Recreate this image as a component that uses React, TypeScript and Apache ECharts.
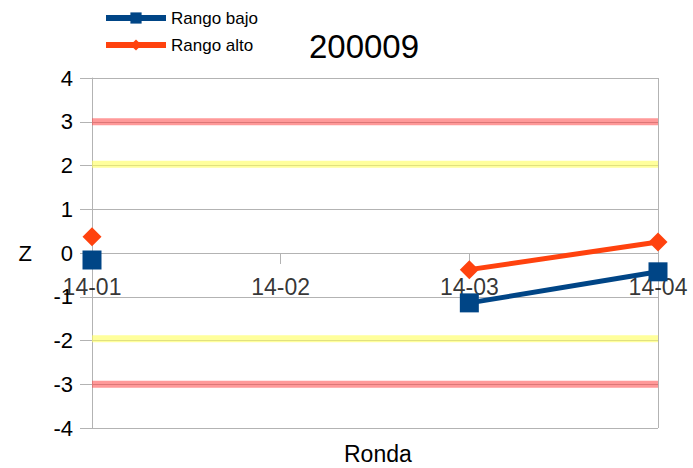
import React, { useEffect, useRef } from "react";
import * as echarts from "echarts";

const categories = ["14-01", "14-02", "14-03", "14-04"];
const rangoBajo: (number | null)[] = [-0.16, null, -1.14, -0.43];
const rangoAlto: (number | null)[] = [0.37, null, -0.38, 0.25];
const redUpper = [3, 3, 3, 3];
const redLower = [-3, -3, -3, -3];
const yellowUpper = [2.03, 2.03, 2.03, 2.03];
const yellowLower = [-1.96, -1.96, -1.96, -1.96];
const yTicks = { min: -4, max: 4, interval: 1 };

const FONT = "Liberation Sans, Arial, sans-serif";
const GRID = "#b3b3b3";

export default function App() {
  const ref = useRef<HTMLDivElement>(null);
  useEffect(() => {
    if (!ref.current) return;
    const chart = echarts.init(ref.current, null, { renderer: "svg" });
    const band = (name: string, data: number[], color: string) => ({
      name,
      type: "line",
      data,
      symbol: "none",
      silent: true,
      z: 1,
      lineStyle: { color, width: 7 },
    });
    chart.setOption({
      animation: false,
      backgroundColor: "#fff",
      textStyle: { fontFamily: FONT },
      title: {
        text: "200009",
        left: 359,
        top: 25,
        textAlign: "center",
        textStyle: { fontSize: 33, fontWeight: "normal", color: "#000", fontFamily: FONT },
      },
      legend: {
        data: ["Rango bajo", "Rango alto"],
        orient: "vertical",
        left: 103,
        top: 8,
        padding: 0,
        itemWidth: 60,
        itemHeight: 14,
        itemGap: 7,
        lineStyle: { width: 6 },
        textStyle: { fontSize: 17, lineHeight: 20, color: "#000", fontFamily: FONT },
      },
      grid: { left: 92, right: 35, top: 78, bottom: 40 },
      xAxis: {
        type: "category",
        data: categories,
        boundaryGap: false,
        axisLine: { onZero: true, lineStyle: { color: GRID } },
        axisTick: { show: true, length: 11, lineStyle: { color: GRID } },
        axisLabel: { show: false },
        splitLine: {
          show: true,
          interval: (i: number) => i === categories.length - 1,
          lineStyle: { color: GRID },
        },
      },
      yAxis: {
        type: "value",
        min: yTicks.min,
        max: yTicks.max,
        interval: yTicks.interval,
        name: "Z",
        nameLocation: "middle",
        nameGap: 60,
        nameRotate: 0,
        nameTextStyle: { fontSize: 22, color: "#000", fontFamily: FONT },
        axisLine: { show: true, lineStyle: { color: GRID } },
        axisTick: { show: true, length: 12, lineStyle: { color: GRID } },
        axisLabel: { fontSize: 22, color: "#000", margin: 19, fontFamily: FONT },
        splitLine: { show: true, lineStyle: { color: GRID } },
      },
      graphic: [
        {
          type: "text",
          left: 344,
          top: 442,
          style: { text: "Ronda", fontSize: 23, fill: "#000", fontFamily: FONT },
        },
      ],
      series: [
        band("bandRedUp", redUpper, "rgba(255,70,70,0.55)"),
        band("bandRedLow", redLower, "rgba(255,70,70,0.55)"),
        band("bandYelUp", yellowUpper, "rgba(255,255,90,0.6)"),
        band("bandYelLow", yellowLower, "rgba(255,255,90,0.6)"),
        {
          name: "xLabels",
          type: "scatter",
          data: categories.map((c) => [c, 0]),
          symbolSize: 0,
          silent: true,
          z: 2,
          label: {
            show: true,
            position: "bottom",
            distance: 22,
            fontSize: 23,
            color: "#000",
            fontFamily: FONT,
            formatter: (p: any) => p.value[0],
          },
        },
        {
          name: "Rango bajo",
          type: "line",
          data: rangoBajo,
          connectNulls: false,
          symbol: "rect",
          symbolSize: 19,
          z: 3,
          itemStyle: { color: "#004586" },
          lineStyle: { color: "#004586", width: 5 },
        },
        {
          name: "Rango alto",
          type: "line",
          data: rangoAlto,
          connectNulls: false,
          symbol: "diamond",
          symbolSize: 19,
          z: 4,
          itemStyle: { color: "#ff420e" },
          lineStyle: { color: "#ff420e", width: 5 },
        },
      ],
    });
    return () => chart.dispose();
  }, []);
  return <div ref={ref} style={{ width: 693, height: 468, position: "absolute", left: 0, top: 0 }} />;
}
